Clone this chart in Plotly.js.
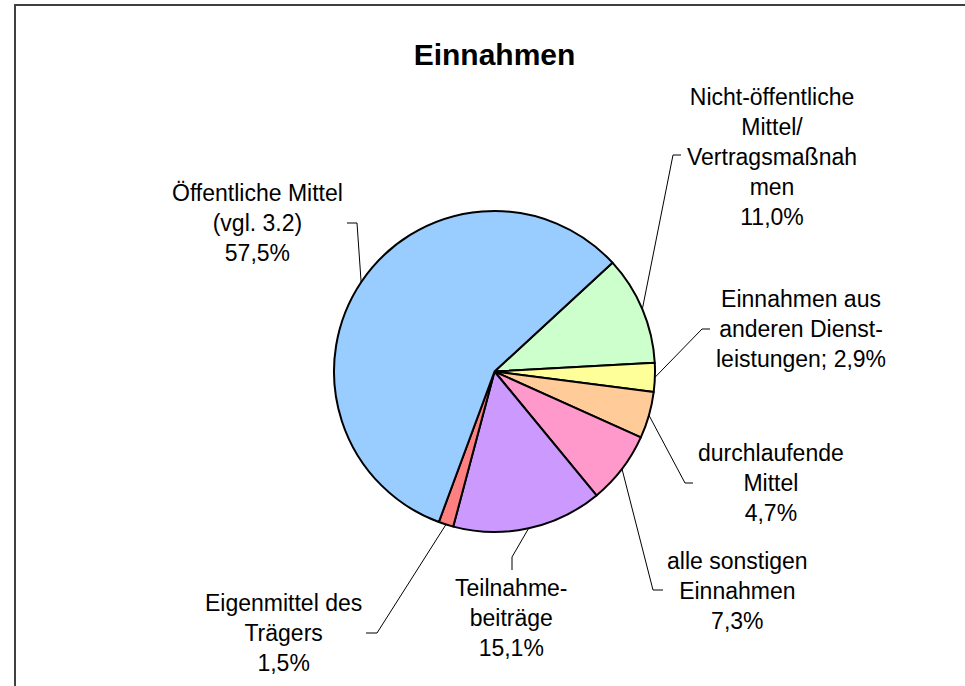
<!DOCTYPE html>
<html>
<head>
<meta charset="utf-8">
<script src="https://cdn.plot.ly/plotly-3.0.1.min.js"></script>
<style>html,body{margin:0;padding:0;background:#fff;}#chart{width:965px;height:686px;}</style>
</head>
<body>
<div id="chart"></div>
<script>
// ---- data ----
var categories = [
  "Nicht-öffentliche<br>Mittel/<br>Vertragsmaßnah<br>men",
  "Einnahmen aus<br>anderen Dienst-<br>leistungen;",
  "durchlaufende<br>Mittel",
  "alle sonstigen<br>Einnahmen",
  "Teilnahme-<br>beiträge",
  "Eigenmittel des<br>Trägers",
  "Öffentliche Mittel<br>(vgl. 3.2)"
];
var values = [11.0, 2.9, 4.7, 7.3, 15.1, 1.5, 57.5];
var sliceColors = ["#CCFFCC", "#FFFF99", "#FFCC99", "#FF99CC", "#CC99FF", "#FF8080", "#99CCFF"];
var percentJoin = ["<br>", " ", "<br>", "<br>", "<br>", "<br>", "<br>"];

// ---- layout (pixel positions of label blocks and leader elbows) ----
var W = 965, H = 686;
var labelPos = [[772, 157.5], [801, 329], [770.5, 483], [737.5, 591], [511.5, 618], [283.5, 633], [257, 223]];
var elbows = [
  [[673, 155], [681, 155]],
  [[702, 329], [710, 329]],
  [[685, 483], [693, 483]],
  [[653, 590], [663, 590]],
  [[512, 557], [512, 570]],
  [[377, 633], [366, 633]],
  [[357, 223], [347, 223]]
];
var rotation = 47.3;
var dom = {x: [334 / W, 655 / W], y: [1 - 532 / H, 1 - 211 / H]};

function px(x) { return x / W; }
function py(y) { return 1 - y / H; }

var total = values.reduce(function (a, b) { return a + b; }, 0);
var cx = (dom.x[0] + dom.x[1]) / 2 * W;
var cy = (1 - (dom.y[0] + dom.y[1]) / 2) * H;
var r = Math.min((dom.x[1] - dom.x[0]) * W, (dom.y[1] - dom.y[0]) * H) / 2;

var annotations = [];
var shapes = [];
var cum = 0;
for (var i = 0; i < values.length; i++) {
  var mid = (rotation + 360 * (cum + values[i] / 2) / total) * Math.PI / 180;
  cum += values[i];
  var ex = cx + r * Math.sin(mid), ey = cy - r * Math.cos(mid);
  var e1 = elbows[i][0], e2 = elbows[i][1];
  shapes.push({
    type: 'path', xref: 'paper', yref: 'paper',
    path: 'M ' + px(ex) + ',' + py(ey) + ' L ' + px(e1[0]) + ',' + py(e1[1]) + ' L ' + px(e2[0]) + ',' + py(e2[1]),
    line: {color: '#000', width: 1}
  });
  var pct = (values[i] / total * 100).toFixed(1).replace('.', ',') + '%';
  annotations.push({
    xref: 'paper', yref: 'paper', x: px(labelPos[i][0]), y: py(labelPos[i][1]),
    xanchor: 'center', yanchor: 'middle', align: 'center', showarrow: false,
    text: categories[i] + percentJoin[i] + pct,
    font: {family: 'Liberation Sans, Arial, sans-serif', size: 23, color: '#000'}
  });
}
// chart frame
shapes.push({
  type: 'rect', xref: 'paper', yref: 'paper',
  x0: px(15), x1: px(W + 10), y0: py(H + 10), y1: py(5),
  line: {color: '#404040', width: 2}, fillcolor: 'rgba(0,0,0,0)'
});

var trace = {
  type: 'pie',
  labels: categories,
  values: values,
  sort: false,
  direction: 'clockwise',
  rotation: rotation,
  textinfo: 'none',
  hoverinfo: 'label+percent',
  marker: {colors: sliceColors, line: {color: '#000', width: 2}},
  domain: dom,
  showlegend: false
};

var layout = {
  width: W, height: H,
  margin: {l: 0, r: 0, t: 0, b: 0},
  paper_bgcolor: '#fff',
  plot_bgcolor: '#fff',
  showlegend: false,
  title: {
    text: '<b>Einnahmen</b>',
    x: px(494.5), xanchor: 'center',
    y: py(54.5), yanchor: 'middle',
    font: {family: 'Liberation Sans, Arial, sans-serif', size: 30, color: '#000'}
  },
  annotations: annotations,
  shapes: shapes
};

Plotly.newPlot('chart', [trace], layout, {displayModeBar: false, staticPlot: true});
</script>
</body>
</html>
